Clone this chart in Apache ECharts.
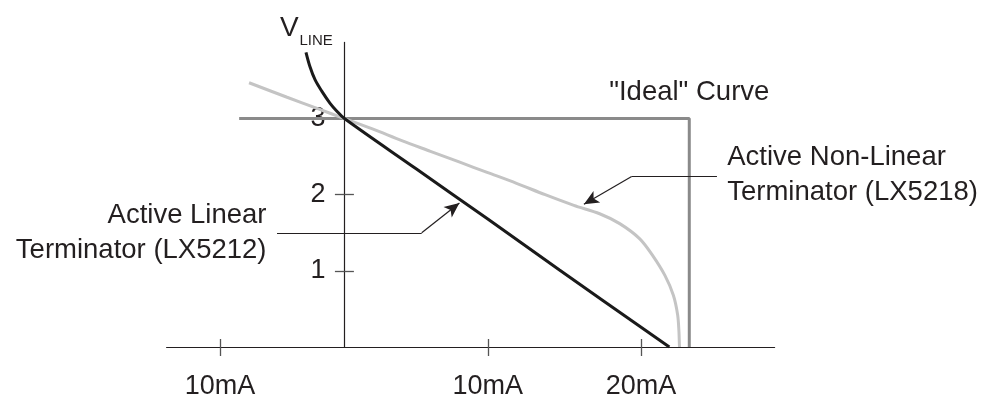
<!DOCTYPE html>
<html>
<head>
<meta charset="utf-8">
<script src="https://cdn.jsdelivr.net/npm/echarts@6/dist/echarts.min.js"></script>
<style>
  html, body { margin: 0; padding: 0; background: #ffffff; }
  #chart { width: 987px; height: 400px; }
</style>
</head>
<body>
<div id="chart"></div>
<script>
// Terminator load lines: line voltage V_LINE (V) against line current (mA)

// axis ticks
const currentTicks = [-8.67, 10, 20.68];
const currentTickLabels = ['10mA', '10mA', '20mA'];
const voltageTicks = [1, 2, 3];

// [current mA, voltage V]
const idealCurve = [[-7.34, 3], [24.05, 3], [24.05, 0]];

const nonLinearLX5218 = [
  [-6.65, 3.47], [-4, 3.28], [-2, 3.14], [0, 3.0], [2, 2.86], [4, 2.71],
  [6, 2.57], [8, 2.43], [10, 2.29], [12, 2.15], [14, 2.0], [16, 1.86],
  [17.8, 1.75], [19.2, 1.62], [20.6, 1.42], [21.5, 1.2], [22.35, 0.94],
  [22.94, 0.68], [23.24, 0.42], [23.33, 0.2], [23.36, 0.03], [23.37, 0]
];

const linearLX5212 = [
  [-2.68, 3.87], [-2.40, 3.68], [-2.05, 3.51], [-1.58, 3.36], [-1.0, 3.2],
  [-0.54, 3.1], [0, 3.0], [5, 2.34], [10, 1.68], [15, 1.01], [22.66, 0]
];

// caption leaders: caption end, elbow, arrow tip
const linearLeader = [[-4.70, 1.50], [5.39, 1.50], [8.02, 1.89]];
const nonLinearLeader = [[25.98, 2.24], [20.03, 2.24], [16.7, 1.875]];

const FONT = 'Liberation Sans';
const INK = '#231f20';

const chart = echarts.init(document.getElementById('chart'), null, { renderer: 'canvas' });

function tickLabel(v) {
  for (let i = 0; i < currentTicks.length; i++) {
    if (Math.abs(currentTicks[i] - v) < 1e-6) return currentTickLabels[i];
  }
  return '';
}

const xRange = { min: -12.4, max: 30 };
const yRange = { min: 0, max: 4 };
const gridBox = { left: 166.6, right: 212.4, top: 42.4, bottom: 51 };

// the voltage axis stands at zero current
const plotWidth = 987 - gridBox.left - gridBox.right;
const yAxisShift = -((0 - xRange.min) / (xRange.max - xRange.min)) * plotWidth;

const leaderStyle = { color: INK, width: 1.2, opacity: 1, curveness: 0 };

chart.setOption({
  animation: false,
  backgroundColor: '#ffffff',
  grid: Object.assign({ containLabel: false }, gridBox),
  xAxis: [
    {
      type: 'value', min: xRange.min, max: xRange.max, position: 'bottom',
      axisLine: { lineStyle: { color: INK, width: 1.2 } },
      axisTick: { customValues: currentTicks, length: 9, lineStyle: { color: '#555', width: 1.3 } },
      axisLabel: {
        customValues: currentTicks, formatter: tickLabel, margin: 26,
        fontFamily: FONT, fontSize: 27, color: INK
      },
      splitLine: { show: false }
    },
    {
      type: 'value', min: xRange.min, max: xRange.max, position: 'bottom',
      axisLine: { show: false },
      axisTick: { customValues: currentTicks, inside: true, length: 8, lineStyle: { color: '#555', width: 1.3 } },
      axisLabel: { show: false },
      splitLine: { show: false }
    }
  ],
  yAxis: [
    {
      type: 'value', min: yRange.min, max: yRange.max, position: 'left', offset: yAxisShift,
      axisLine: { onZero: false, lineStyle: { color: INK, width: 1.2 } },
      axisTick: { customValues: voltageTicks, length: 9.5, lineStyle: { color: '#555', width: 1.3 } },
      axisLabel: {
        customValues: voltageTicks, margin: 19,
        fontFamily: FONT, fontSize: 27, color: INK
      },
      splitLine: { show: false }
    },
    {
      type: 'value', min: yRange.min, max: yRange.max, position: 'left', offset: yAxisShift,
      axisLine: { show: false, onZero: false },
      axisTick: { customValues: voltageTicks, inside: true, length: 9.5, lineStyle: { color: '#555', width: 1.3 } },
      axisLabel: { show: false },
      splitLine: { show: false }
    }
  ],
  series: [
    {
      name: '"Ideal" Curve', type: 'line', data: idealCurve,
      showSymbol: false, symbol: 'none', clip: false,
      lineStyle: { color: '#8a8a8a', width: 3 }, z: 2
    },
    {
      name: 'Active Non-Linear Terminator (LX5218)', type: 'line', data: nonLinearLX5218,
      showSymbol: false, symbol: 'none', smooth: 0.3, clip: false,
      lineStyle: { color: '#c4c4c4', width: 3 }, z: 3
    },
    {
      name: 'Active Linear Terminator (LX5212)', type: 'line', data: linearLX5212,
      showSymbol: false, symbol: 'none', smooth: 0.35, clip: false,
      lineStyle: { color: '#1a1a1a', width: 3 }, z: 4
    },
    {
      // horizontal runs of the caption leaders
      type: 'lines', coordinateSystem: 'cartesian2d', silent: true,
      symbol: ['none', 'none'], lineStyle: leaderStyle,
      data: [
        { coords: [linearLeader[0], linearLeader[1]] },
        { coords: [nonLinearLeader[0], nonLinearLeader[1]] }
      ], z: 5
    },
    {
      // slanted runs ending in arrowheads
      type: 'lines', coordinateSystem: 'cartesian2d', silent: true,
      symbol: ['none', 'arrow'], symbolSize: [1, [10, 15]], lineStyle: leaderStyle,
      data: [
        { coords: [linearLeader[1], linearLeader[2]] },
        { coords: [nonLinearLeader[1], nonLinearLeader[2]] }
      ], z: 5
    }
  ]
});

// captions, placed next to the leader and curve anchors
function px(p) { return chart.convertToPixel({ gridIndex: 0 }, p); }

const linStart = px(linearLeader[0]);
const nonLinStart = px(nonLinearLeader[0]);
const idealCorner = px(idealCurve[1]);
const axisTop = px([0, yRange.max]);

const captionStyle = { fontFamily: FONT, fontSize: 27.5, fill: INK, lineHeight: 35.5 };

chart.setOption({
  graphic: [
    {
      type: 'text', x: linStart[0] - 10.5, y: linStart[1],
      style: Object.assign({ text: 'Active Linear\nTerminator (LX5212)', align: 'right', verticalAlign: 'middle' }, captionStyle)
    },
    {
      type: 'text', x: nonLinStart[0] + 10.3, y: nonLinStart[1] - 1.5,
      style: Object.assign({ text: 'Active Non-Linear\nTerminator (LX5218)', align: 'left', verticalAlign: 'middle' }, captionStyle)
    },
    {
      type: 'text', x: idealCorner[0], y: idealCorner[1] - 26,
      style: Object.assign({ text: '"Ideal" Curve', align: 'center', verticalAlign: 'middle' }, captionStyle)
    },
    {
      type: 'text', x: axisTop[0] - 64.5, y: axisTop[1] - 14.5,
      style: { text: 'V', fontFamily: FONT, fontSize: 28, fill: INK, align: 'left', verticalAlign: 'middle' }
    },
    {
      type: 'text', x: axisTop[0] - 45, y: axisTop[1] - 2,
      style: { text: 'LINE', fontFamily: FONT, fontSize: 15, fill: INK, align: 'left', verticalAlign: 'middle' }
    }
  ]
});
</script>
</body>
</html>
